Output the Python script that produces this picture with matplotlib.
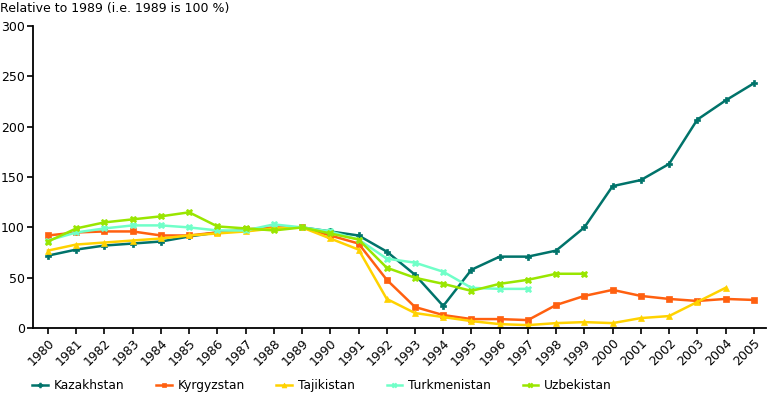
import matplotlib
matplotlib.use("Agg")
import matplotlib.pyplot as plt
import numpy as np

years = list(range(1980, 2006))

kazakhstan = [72, 78, 82, 84, 86, 91, 95, 97, 99, 100, 96, 92, 76, 53, 22, 58,
              71, 71, 77, 100, 141, 147, 163, 207, 226, 243]
kyrgyzstan = [92, 95, 96, 96, 92, 92, 95, 98, 100, 100, 92, 84, 48, 21, 13, 9,
              9, 8, 23, 32, 38, 32, 29, 27, 29, 28]
tajikistan = [77, 83, 85, 87, 89, 92, 94, 96, 99, 100, 89, 78, 29, 15, 11, 7,
              4, 3, 5, 6, 5, 10, 12, 26, 40, None]
turkmenistan = [87, 95, 99, 102, 102, 100, 97, 97, 103, 100, 96, 88, 69, 65, 56, 40,
                39, 39]
uzbekistan = [86, 99, 105, 108, 111, 115, 101, 99, 97, 100, 94, 88, 60, 50, 44, 37,
              44, 48, 54, 54]

series = [
    ("Kazakhstan", kazakhstan, "#00736a", "P"),
    ("Kyrgyzstan", kyrgyzstan, "#ff6010", "s"),
    ("Tajikistan", tajikistan, "#ffd200", "^"),
    ("Turkmenistan", turkmenistan, "#70ffc8", "X"),
    ("Uzbekistan", uzbekistan, "#99e600", "X"),
]

fig = plt.figure(figsize=(7.68, 3.93), dpi=100)
ax = fig.add_axes([0.043, 0.165, 0.955, 0.769])

for name, vals, color, marker in series:
    y = np.array([np.nan if v is None else v for v in vals], dtype=float)
    x = np.arange(len(y))
    ax.plot(x, y, color=color, marker=marker, markersize=5, linewidth=1.8,
            markeredgewidth=0.5, label=name)

ax.set_xlim(-0.53, len(years) - 0.55)
ax.set_ylim(0, 300)
ax.set_yticks(range(0, 301, 50))
ax.set_xticks(range(len(years)))
ax.set_xticklabels([str(y) for y in years], rotation=45, ha="right",
                   rotation_mode="anchor", fontsize=9)
ax.tick_params(axis="y", labelsize=9, length=4, width=1.2, pad=2)
ax.tick_params(axis="x", length=4, width=1.2, pad=2)

for s in ["top", "right"]:
    ax.spines[s].set_visible(False)
for s in ["left", "bottom"]:
    ax.spines[s].set_linewidth(1.3)

fig.text(0.0, 0.995, "Relative to 1989 (i.e. 1989 is 100 %)", fontsize=9,
         va="top", ha="left")

fig.legend(loc="center left", bbox_to_anchor=(0.042, 0.018), ncol=5,
           frameon=False, fontsize=8.8, columnspacing=2.6, handlelength=1.3,
           handletextpad=0.45, markerscale=0.7, borderaxespad=0, borderpad=0)

plt.savefig("out.png", dpi=100)
